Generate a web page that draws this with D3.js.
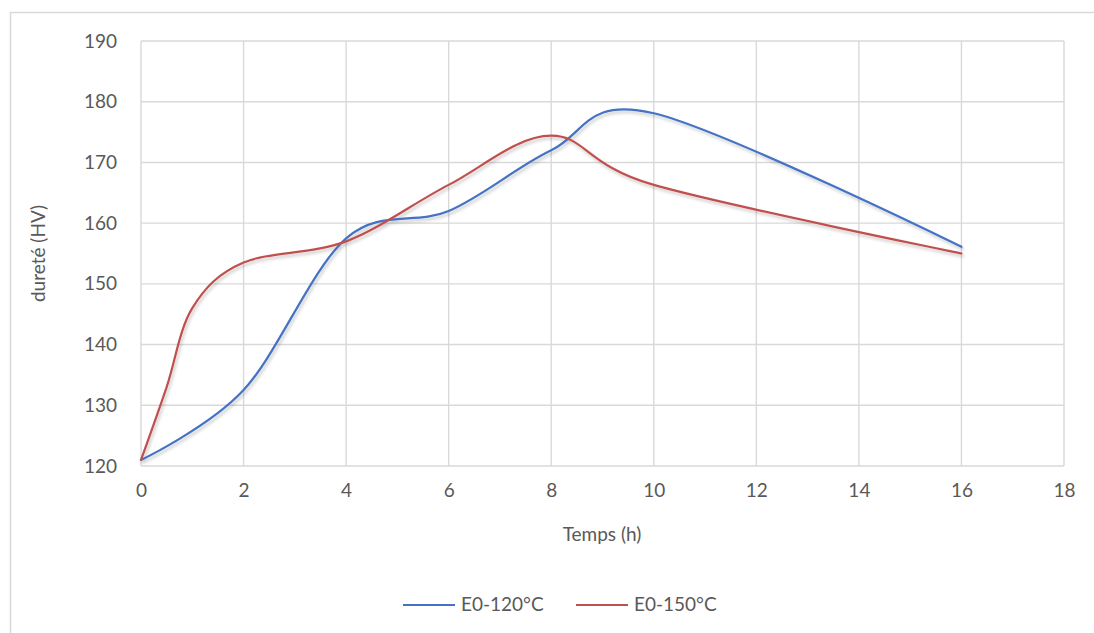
<!DOCTYPE html>
<html>
<head>
<meta charset="utf-8">
<script src="https://cdn.jsdelivr.net/npm/d3@7"></script>
<style>
  html, body { margin: 0; padding: 0; background: #ffffff; }
  svg { display: block; font-family: Lato, "Open Sans", sans-serif; }
</style>
</head>
<body>
<svg id="chart" width="1094" height="633"></svg>
<script>
// Time points (hours) and hardness readings (HV) for each ageing temperature
const times120 = [0, 2, 4, 6, 8, 10, 16];
const hv120 = [121, 132.5, 157.5, 162, 172, 178.1, 156.1];
const times150 = [0, 0.5, 1, 2, 4, 6, 8, 10, 16];
const hv150 = [121, 133, 146, 153.5, 157, 166.3, 174.4, 166.3, 155];
const seriesNames = ["E0-120°C", "E0-150°C"];
const seriesColors = ["#4472c4", "#c0504d"];
const xTicks = [0, 2, 4, 6, 8, 10, 12, 14, 16, 18];
const yTicks = [120, 130, 140, 150, 160, 170, 180, 190];

const svg = d3.select("#chart");
const W = 1094, H = 633;

// outer chart frame
svg.append("rect")
  .attr("x", 10.5).attr("y", 12.5)
  .attr("width", W + 20).attr("height", H + 20)
  .attr("fill", "#ffffff").attr("stroke", "#d9d9d9").attr("stroke-width", 1.5);

const plot = { left: 141, right: 1064, top: 41, bottom: 466 };

const x = d3.scaleLinear().domain([0, 18]).range([plot.left, plot.right]);
const y = d3.scaleLinear().domain([120, 190]).range([plot.bottom, plot.top]);

// soft shadow under the data lines
const defs = svg.append("defs");
const f = defs.append("filter").attr("id", "lineShadow")
  .attr("x", "-5%").attr("y", "-5%").attr("width", "110%").attr("height", "120%");
f.append("feDropShadow").attr("dx", 1.5).attr("dy", 2.5)
  .attr("stdDeviation", 1.6).attr("flood-color", "#000").attr("flood-opacity", 0.22);

// gridlines
const grid = svg.append("g").attr("stroke", "#d9d9d9").attr("stroke-width", 1.4);
grid.selectAll("line.h").data(yTicks).join("line")
  .attr("x1", plot.left).attr("x2", plot.right)
  .attr("y1", d => y(d)).attr("y2", d => y(d));
grid.selectAll("line.v").data(xTicks).join("line")
  .attr("y1", plot.top).attr("y2", plot.bottom)
  .attr("x1", d => x(d)).attr("x2", d => x(d));

// axes (labels only)
const yAxis = svg.append("g")
  .attr("transform", `translate(${plot.left},0)`)
  .call(d3.axisLeft(y).tickValues(yTicks).tickSize(0).tickPadding(24));
const xAxis = svg.append("g")
  .attr("transform", `translate(0,${plot.bottom})`)
  .call(d3.axisBottom(x).tickValues(xTicks).tickSize(0).tickPadding(18));
[yAxis, xAxis].forEach(a => {
  a.select(".domain").remove();
  a.selectAll("text").attr("fill", "#595959").style("font-size", "19px")
    .style("font-family", "Lato, 'Open Sans', sans-serif");
});

// axis titles
svg.append("text")
  .attr("transform", `translate(40,${(plot.top + plot.bottom) / 2}) rotate(-90)`)
  .attr("text-anchor", "middle").attr("dominant-baseline", "middle")
  .attr("fill", "#595959").style("font-size", "19px")
  .text("dureté (HV)");
svg.append("text")
  .attr("x", 602).attr("y", 536)
  .attr("text-anchor", "middle").attr("dominant-baseline", "middle")
  .attr("fill", "#595959").style("font-size", "19px")
  .text("Temps (h)");

// smoothed lines
const line = d3.line()
  .x(d => x(d[0])).y(d => y(d[1]))
  .curve(d3.curveCardinal.tension(0));

const allSeries = [
  times120.map((t, i) => [t, hv120[i]]),
  times150.map((t, i) => [t, hv150[i]])
];
svg.append("g").attr("filter", "url(#lineShadow)")
  .selectAll("path").data(allSeries).join("path")
  .attr("d", line)
  .attr("fill", "none")
  .attr("stroke", (d, i) => seriesColors[i])
  .attr("stroke-width", 2.2)
  .attr("stroke-linecap", "round");

// legend
const legendX = [403, 576];
const legend = svg.append("g");
seriesNames.forEach((name, i) => {
  legend.append("line")
    .attr("x1", legendX[i]).attr("x2", legendX[i] + 52)
    .attr("y1", 605).attr("y2", 605)
    .attr("stroke", seriesColors[i]).attr("stroke-width", 2.2);
  legend.append("text")
    .attr("x", legendX[i] + 58).attr("y", 606)
    .attr("dominant-baseline", "middle")
    .attr("fill", "#595959").style("font-size", "19px")
    .text(name);
});
</script>
</body>
</html>
